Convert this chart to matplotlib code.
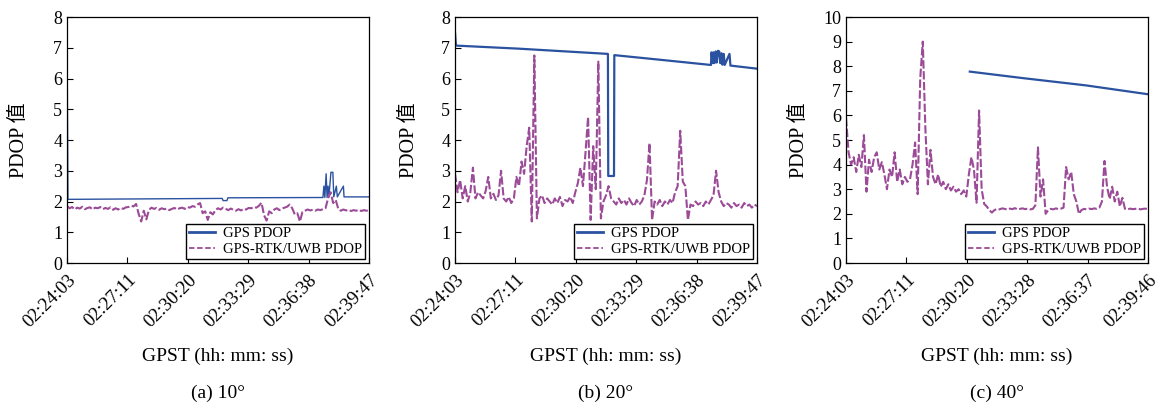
import numpy as np
import matplotlib.pyplot as plt
import matplotlib.transforms as mtransforms
from matplotlib.lines import Line2D

plt.rcParams['font.family'] = ['Liberation Serif', 'Noto Sans CJK SC']

# x tick labels (GPST)
ticks_a = ['02:24:03', '02:27:11', '02:30:20', '02:33:29', '02:36:38', '02:39:47']
ticks_b = ['02:24:03', '02:27:11', '02:30:20', '02:33:29', '02:36:38', '02:39:47']
ticks_c = ['02:24:03', '02:27:11', '02:30:20', '02:33:28', '02:36:37', '02:39:46']
captions = ['(a) 10°', '(b) 20°', '(c) 40°']

STEP = 8  # seconds between GPS-RTK/UWB samples
SPAN = 944

# GPS-RTK/UWB PDOP, sampled every 8 s
rtk_a = [1.85, 1.78, 1.82, 1.74, 1.80, 1.77, 1.83, 1.75, 1.79, 1.81,
         1.74, 1.80, 1.78, 1.82, 1.75, 1.79, 1.76, 1.81, 1.73, 1.78,
         1.74, 1.79, 1.76, 1.81, 1.82, 1.86, 1.84, 1.92, 1.60, 1.35,
         1.70, 1.42, 1.72, 1.80, 1.76, 1.79, 1.73, 1.78, 1.75, 1.77,
         1.72, 1.76, 1.79, 1.74, 1.78, 1.80, 1.76, 1.82, 1.80, 1.85,
         1.83, 1.90, 1.95, 1.62, 1.68, 1.40, 1.65, 1.58, 1.72, 1.78,
         1.74, 1.80, 1.76, 1.72, 1.77, 1.73, 1.70, 1.75, 1.71, 1.76,
         1.74, 1.79, 1.78, 1.82, 1.80, 1.86, 1.96, 1.55, 1.38, 1.68,
         1.62, 1.74, 1.78, 1.72, 1.77, 1.80, 1.83, 1.90, 1.78, 1.58,
         1.62, 1.35, 1.66, 1.70, 1.74, 1.71, 1.73, 1.70, 1.74, 1.72,
         1.75, 1.78, 2.10, 2.30, 1.95, 2.05, 1.76, 1.70, 1.74, 1.71,
         1.73, 1.69, 1.72, 1.70, 1.73, 1.69, 1.72, 1.70, 1.71]
rtk_b = [2.9, 2.3, 2.7, 2.1, 2.5, 2.0, 2.3, 3.1, 2.1, 2.3,
         2.2, 2.1, 2.35, 2.8, 2.1, 2.25, 2.05, 2.2, 3.0, 2.1,
         2.0, 2.15, 1.95, 2.1, 2.8, 2.5, 3.3, 2.9, 3.8, 4.4,
         1.35, 6.75, 1.45, 2.1, 2.2, 1.95, 2.1, 2.0, 1.9, 2.1,
         1.95, 2.15, 1.85, 2.05, 2.0, 2.15, 1.95, 2.3, 2.6, 3.1,
         2.5, 3.6, 4.75, 1.4, 3.8, 2.4, 6.55, 1.45, 2.0, 2.2,
         2.5, 2.1, 2.0, 1.9, 2.1, 1.95, 2.05, 1.9, 2.1, 1.95,
         1.85, 2.05, 1.9, 2.0, 2.2, 2.7, 3.9, 1.4, 2.0, 1.9,
         2.05, 1.85, 2.0, 1.9, 2.05, 1.95, 2.3, 2.5, 4.3, 2.65,
         2.5, 1.4, 1.9, 1.85, 2.0, 1.9, 1.95, 1.85, 2.0, 1.9,
         2.05, 2.2, 3.0, 2.3, 2.0, 1.85, 1.95, 1.9, 1.8, 1.95,
         1.85, 1.9, 1.8, 1.95, 1.85, 1.9, 1.8, 1.9, 1.85]
rtk_c = [5.9, 4.5, 4.0, 4.3, 3.7, 4.4, 3.9, 5.2, 2.9, 4.2,
         3.7, 4.3, 4.5, 3.8, 4.1, 3.6, 3.0, 3.8, 3.5, 4.5,
         3.3, 3.8, 3.2, 3.5, 3.3, 3.4, 4.0, 4.9, 2.8, 7.5,
         9.0, 5.5, 3.2, 4.6, 3.5, 3.2, 3.6, 3.1, 3.3, 3.0,
         3.2, 2.95, 3.1, 2.9, 3.0, 2.8, 2.95, 2.7, 3.6, 4.3,
         3.8, 2.45, 6.2, 3.0, 2.4, 2.3, 2.15, 2.05, 2.15, 2.2,
         2.18, 2.22, 2.2, 2.17, 2.21, 2.19, 2.23, 2.18, 2.2, 2.22,
         2.19, 2.21, 2.18, 2.2, 2.35, 4.7, 2.7, 3.4, 2.0, 2.15,
         2.2, 2.18, 2.22, 2.19, 2.21, 2.25, 3.9, 3.4, 3.7, 2.8,
         2.5, 2.0, 2.15, 2.2, 2.18, 2.21, 2.19, 2.22, 2.2, 2.25,
         2.5, 4.15, 3.1, 2.6, 3.1, 2.5, 2.9, 2.3, 2.65, 2.2,
         2.18, 2.21, 2.19, 2.2, 2.22, 2.18, 2.2, 2.21, 2.19]

# GPS PDOP, breakpoints (seconds from 02:24:03, value)
gps_a_t = [0, 3, 485, 488, 500, 503, 800, 803, 806, 810, 813, 816, 819,
           825, 831, 834, 842, 845, 864, 866, 944]
gps_a_v = [7.5, 2.07, 2.10, 2.03, 2.03, 2.12, 2.13, 2.5, 2.13, 2.9, 2.13,
           2.5, 2.2, 2.95, 2.95, 2.15, 2.5, 2.15, 2.5, 2.15, 2.15]
gps_b_t = [0, 3, 200, 478, 479, 497, 498, 650, 800, 802, 805, 808, 811,
           815, 818, 822, 826, 829, 833, 836, 840, 843, 858, 861, 944]
gps_b_v = [7.5, 7.07, 6.97, 6.80, 2.83, 2.83, 6.76, 6.60, 6.44, 6.85, 6.5,
           6.85, 6.5, 6.88, 6.52, 6.9, 6.88, 6.5, 6.82, 6.45, 6.8, 6.44,
           6.8, 6.42, 6.32]
gps_c_t = [387, 550, 750, 944]
gps_c_v = [7.78, 7.52, 7.22, 6.86]

blue = '#2b52a0'
purple = '#9b4b97'

panels = [
    (67, rtk_a, gps_a_t, gps_a_v, ticks_a, 8, 1.0, 19),
    (455, rtk_b, gps_b_t, gps_b_v, ticks_b, 8, 1.6, 409),
    (846, rtk_c, gps_c_t, gps_c_v, ticks_c, 10, 1.6, 799),
]

W, H = 1163, 408
fig = plt.figure(figsize=(W / 100, H / 100), dpi=100)
# nudge rotated tick labels a little right, like the original
shift = mtransforms.ScaledTranslation(5 / 100, -1 / 100, fig.dpi_scale_trans)

for k, (left, rtk, gt, gv, tl, ymax, glw, ylx) in enumerate(panels):
    ax = fig.add_axes([left / W, 1 - 263 / H, 302 / W, 246 / H])
    x = np.arange(len(rtk)) * STEP
    ax.plot(gt, gv, color=blue, lw=glw)
    ax.plot(x, rtk, color=purple, lw=1.5, linestyle=(0, (4, 1.2)))
    ax.set_xlim(0, SPAN)
    ax.set_ylim(0, ymax)
    ax.set_yticks(range(0, ymax + 1))
    ax.set_xticks(np.linspace(0, SPAN, 6))
    ax.set_xticklabels(tl, rotation=45, ha='right', va='top',
                       rotation_mode='anchor', fontsize=13.5)
    for lab in ax.get_xticklabels():
        lab.set_transform(lab.get_transform() + shift)
    ax.tick_params(direction='in', length=4, width=0.8)
    ax.tick_params(axis='y', labelsize=13)
    ax.tick_params(axis='x', pad=6)
    for s in ax.spines.values():
        s.set_linewidth(0.9)
    handles = [Line2D([], [], color=blue, lw=2),
               Line2D([], [], color=purple, lw=1.3, linestyle=(0, (3, 1.5)))]
    leg = ax.legend(handles, ['GPS PDOP', 'GPS-RTK/UWB PDOP'], loc='lower right',
                    fontsize=10.5, frameon=True, fancybox=False,
                    borderaxespad=0.3, handlelength=1.8, borderpad=0.2,
                    labelspacing=0.15, handletextpad=0.5)
    leg.get_frame().set_edgecolor('black')
    leg.get_frame().set_linewidth(1.0)
    leg.get_frame().set_alpha(1)
    cx = (left + 151) / W
    fig.text(ylx / W, 1 - 140 / H, 'PDOP 值', rotation=90, ha='center',
             va='center', fontsize=14.5)
    fig.text(cx, 1 - 356 / H, 'GPST (hh: mm: ss)', ha='center', va='center',
             fontsize=14)
    fig.text(cx, 1 - 393 / H, captions[k], ha='center', va='center', fontsize=14)

fig.savefig('out.png', dpi=100)
